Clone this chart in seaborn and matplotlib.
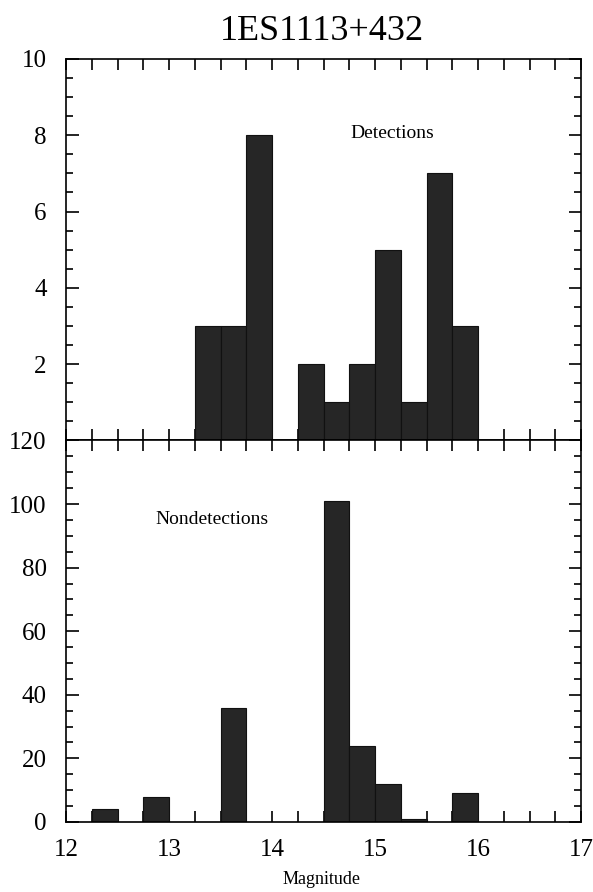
import numpy as np
import pandas as pd
import matplotlib
matplotlib.use("Agg")
import matplotlib.pyplot as plt
from matplotlib.ticker import MultipleLocator
import seaborn as sns

# histogram bins (left edge of each 0.25 mag bin) and counts
bin_width = 0.25
det_left = [13.25, 13.5, 13.75, 14.25, 14.5, 14.75, 15.0, 15.25, 15.5, 15.75]
det_count = [3, 3, 8, 2, 1, 2, 5, 1, 7, 3]
non_left = [12.25, 12.75, 13.5, 14.5, 14.75, 15.0, 15.25, 15.75]
non_count = [4, 8, 36, 101, 24, 12, 1, 9]

title = "1ES1113+432"
xlabel = "Magnitude"
det_label = "Detections"
non_label = "Nondetections"

sns.set_style("ticks")
plt.rcParams["font.family"] = ["Liberation Serif", "DejaVu Serif"]
plt.rcParams.update({"text.color": "black", "xtick.color": "black",
                     "ytick.color": "black", "axes.labelcolor": "black"})

det_df = pd.DataFrame({"mag": np.array(det_left) + bin_width / 2, "n": det_count})
non_df = pd.DataFrame({"mag": np.array(non_left) + bin_width / 2, "n": non_count})

fig, (ax1, ax2) = plt.subplots(2, 1, sharex=True, figsize=(5.93, 8.92), dpi=100)
fig.subplots_adjust(left=0.1113, right=0.9798, top=0.9339, bottom=0.0785, hspace=0)

edges = list(np.arange(12, 17 + bin_width / 2, bin_width))
bar_kw = dict(bins=edges, color="#262626", edgecolor="#111111", linewidth=0.8, alpha=1)

#top panel - detections
sns.histplot(data=det_df, x="mag", weights="n", ax=ax1, **bar_kw)
ax1.set_ylim(0, 10)
ax1.set_yticks([2, 4, 6, 8, 10])
ax1.yaxis.set_minor_locator(MultipleLocator(0.5))
ax1.text(15.17, 8.05, det_label, ha="center", va="center", fontsize=14)

#bottom panel - nondetections
sns.histplot(data=non_df, x="mag", weights="n", ax=ax2, **bar_kw)
ax2.set_ylim(0, 120)
ax2.set_yticks(np.arange(0, 121, 20))
ax2.yaxis.set_minor_locator(MultipleLocator(5))
ax2.text(13.42, 95, non_label, ha="center", va="center", fontsize=14)

for ax in (ax1, ax2):
    ax.set_xlim(12, 17)
    ax.set_xticks(np.arange(12, 17.5, 1))
    ax.xaxis.set_minor_locator(MultipleLocator(0.25))
    ax.set_xlabel("")
    ax.set_ylabel("")
    for s in ax.spines.values():
        s.set_visible(True)
        s.set_linewidth(1.2)
        s.set_color("black")
    ax.tick_params(which="both", direction="in", top=True, right=True, color="black")
    ax.tick_params(axis="x", which="both", length=8, width=1.2)
    ax.tick_params(axis="y", which="major", length=9, width=1.2)
    ax.tick_params(axis="y", which="minor", length=5, width=1.2)
    ax.tick_params(axis="y", which="major", labelsize=18, pad=14, labelcolor="black")
    ax.tick_params(axis="x", which="major", labelsize=18, pad=12, labelcolor="black")

ax1.tick_params(axis="x", labelbottom=False)

fig.text(0.543, 1 - 31 / 892, title, ha="center", va="center", fontsize=26)
fig.text(0.543, 1 - 880 / 892, xlabel, ha="center", va="center", fontsize=13)

plt.savefig("out.png", dpi=100)
plt.close()
